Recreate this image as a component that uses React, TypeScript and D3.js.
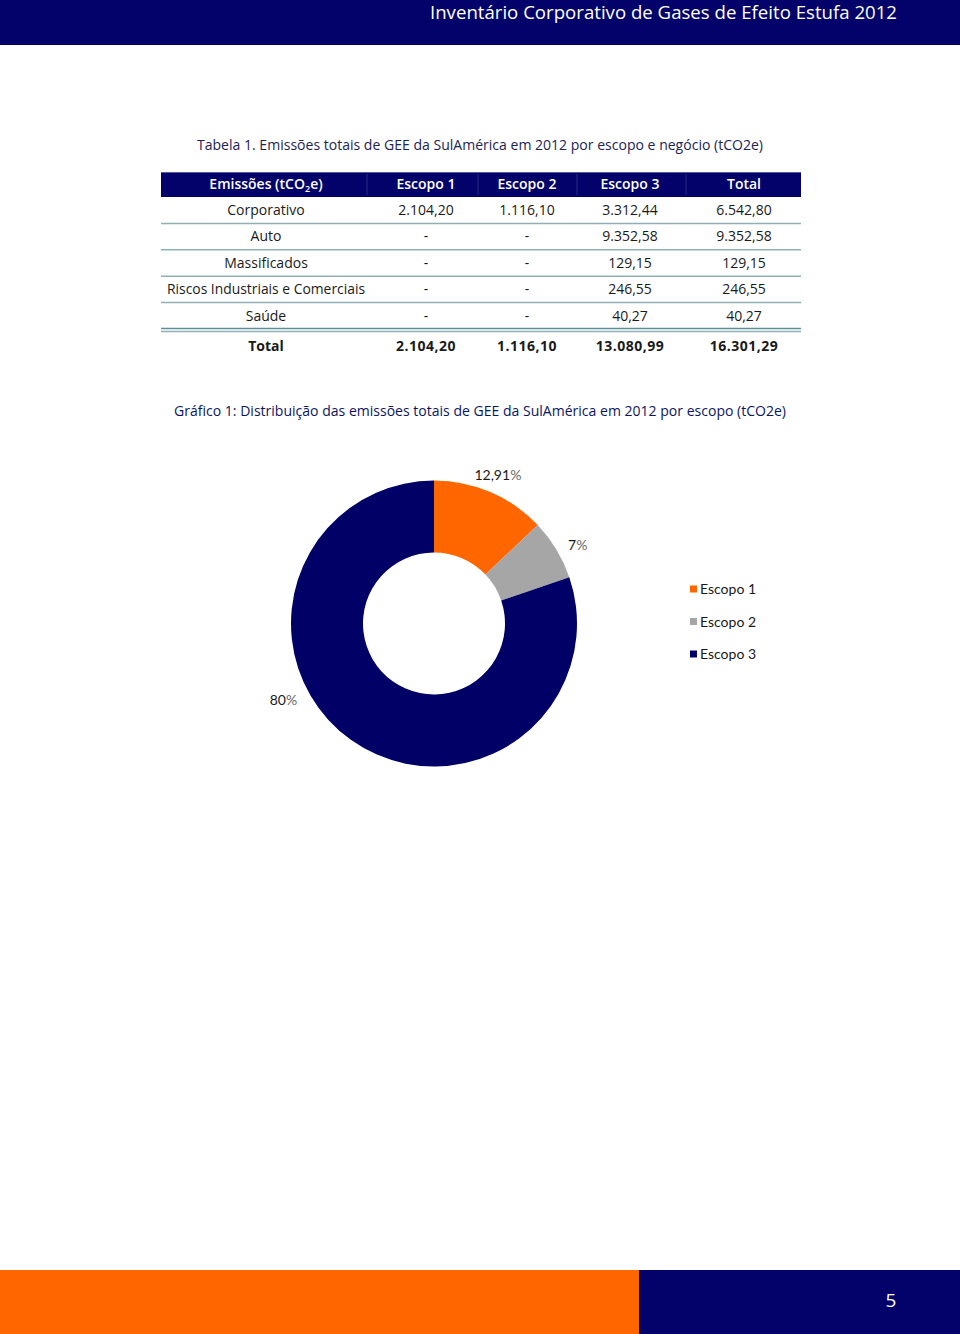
import React from "react";
import * as d3 from "d3";

const pageTitle = "Inventário Corporativo de Gases de Efeito Estufa 2012";
const tableTitle = "Tabela 1. Emissões totais de GEE da SulAmérica em 2012 por escopo e negócio (tCO2e)";
const chartTitle = "Gráfico 1: Distribuição das emissões totais de GEE da SulAmérica em 2012 por escopo (tCO2e)";
const pageNumber = "5";

const columns = ["Escopo 1", "Escopo 2", "Escopo 3", "Total"];
const rowNames = ["Corporativo", "Auto", "Massificados", "Riscos Industriais e Comerciais", "Saúde"];
const escopo1 = ["2.104,20", "-", "-", "-", "-"];
const escopo2 = ["1.116,10", "-", "-", "-", "-"];
const escopo3 = ["3.312,44", "9.352,58", "129,15", "246,55", "40,27"];
const totals = ["6.542,80", "9.352,58", "129,15", "246,55", "40,27"];
const totalRow = ["2.104,20", "1.116,10", "13.080,99", "16.301,29"];

const scopes = ["Escopo 1", "Escopo 2", "Escopo 3"];
const scopeValues = [2104.2, 1116.1, 13080.99];
const scopeLabels = ["12,91", "7", "80"];
const scopeColors = ["#FF6600", "#A6A6A6", "#000066"];

const NAVY = "#02026A";
const FONT = "'Open Sans', 'DejaVu Sans', sans-serif";
const CFONT = "Lato, 'Open Sans', sans-serif";

export default function App() {
  const colX = [266, 426, 527, 630, 744];
  const tableLeft = 161;
  const tableRight = 801;
  const headerTop = 172;
  const headerBottom = 197;
  const rowH = 26.4;
  const rowLines = rowNames.map((_, i) => headerBottom + rowH * (i + 1));
  const colSeps = [367, 478, 577, 686];

  const cx = 434;
  const cy = 623.5;
  const outerR = 143;
  const innerR = 71;
  const pie = d3.pie<number>().sort(null).value((d) => d);
  const arcs = pie(scopeValues);
  const arc = d3.arc<d3.PieArcDatum<number>>().innerRadius(innerR).outerRadius(outerR);
  const labelFrac = [0.5, 0.6, 0.595];
  const labelR = [162, 164, 169];

  const cellRows = rowNames.map((n, i) => [n, escopo1[i], escopo2[i], escopo3[i], totals[i]]);

  return (
    <svg
      width={960}
      height={1334}
      style={{ position: "absolute", left: 0, top: 0, background: "#fff" }}
      xmlns="http://www.w3.org/2000/svg"
    >
      <rect x={0} y={0} width={960} height={1334} fill="#fff" />
      {/* page header */}
      <rect x={0} y={0} width={960} height={45} fill={NAVY} />
      <text x={897} y={18.5} textAnchor="end" fill="#fff" fontFamily={FONT} fontSize={18} textLength={467} lengthAdjust="spacingAndGlyphs">
        {pageTitle}
      </text>

      {/* table title */}
      <text x={480} y={150} textAnchor="middle" fill="#1B2453" fontFamily={FONT} fontSize={14} textLength={566} lengthAdjust="spacingAndGlyphs">
        {tableTitle}
      </text>

      {/* table header */}
      <rect x={tableLeft} y={headerTop} width={tableRight - tableLeft} height={headerBottom - headerTop} fill={NAVY} />
      {colSeps.map((x, i) => (
        <line key={i} x1={x} x2={x} y1={headerTop + 2} y2={headerBottom - 2} stroke="#2a2a80" strokeWidth={1} />
      ))}
      <line x1={tableLeft} x2={tableRight} y1={headerTop + 0.5} y2={headerTop + 0.5} stroke="#5a5a9a" strokeWidth={1} />
      <text x={colX[0]} y={189} textAnchor="middle" fill="#fff" fontFamily={FONT} fontSize={14} fontWeight={600}>
        Emissões (tCO<tspan fontSize={9} dy={3}>2</tspan><tspan dy={-3}>e)</tspan>
      </text>
      {columns.map((c, i) => (
        <text key={c} x={colX[i + 1]} y={189} textAnchor="middle" fill="#fff" fontFamily={FONT} fontSize={14} fontWeight={600}>
          {c}
        </text>
      ))}

      {/* table body */}
      {cellRows.map((row, r) => (
        <g key={r}>
          {row.map((v, c) => (
            <text
              key={c}
              x={colX[c]}
              y={headerBottom + rowH * r + 18}
              textAnchor="middle"
              fill="#1a1a1a"
              fontFamily={FONT}
              fontSize={14}
              textLength={c === 0 && r === 3 ? 198 : undefined}
              lengthAdjust="spacingAndGlyphs"
            >
              {v}
            </text>
          ))}
          {r < rowNames.length - 1 ? (
            <line x1={tableLeft} x2={tableRight} y1={rowLines[r]} y2={rowLines[r]} stroke="#8FAFB5" strokeWidth={1.5} />
          ) : (
            <g>
              <line x1={tableLeft} x2={tableRight} y1={rowLines[r] - 0.5} y2={rowLines[r] - 0.5} stroke="#5E8E98" strokeWidth={1.5} />
              <line x1={tableLeft} x2={tableRight} y1={rowLines[r] + 2.5} y2={rowLines[r] + 2.5} stroke="#8FB0B8" strokeWidth={1.5} />
            </g>
          )}
        </g>
      ))}
      <text x={colX[0]} y={351} textAnchor="middle" fill="#1a1a1a" fontFamily={FONT} fontSize={14} fontWeight={700}>
        Total
      </text>
      {totalRow.map((v, i) => (
        <text key={i} x={colX[i + 1]} y={351} textAnchor="middle" fill="#1a1a1a" fontFamily={FONT} fontSize={14} fontWeight={700} letterSpacing={0.5}>
          {v}
        </text>
      ))}

      {/* chart title */}
      <text x={480} y={416} textAnchor="middle" fill="#0C1560" fontFamily={FONT} fontSize={14} textLength={612} lengthAdjust="spacingAndGlyphs">
        {chartTitle}
      </text>

      {/* donut */}
      <g transform={`translate(${cx},${cy})`}>
        {arcs.map((a, i) => (
          <path key={i} d={arc(a) || ""} fill={scopeColors[i]} />
        ))}
        {arcs.map((a, i) => {
          const ang = a.startAngle + (a.endAngle - a.startAngle) * labelFrac[i];
          const x = Math.sin(ang) * labelR[i];
          const y = -Math.cos(ang) * labelR[i];
          return (
            <text key={i} x={x} y={y + 5} textAnchor="middle" fontFamily={CFONT} fontSize={14} fill="#1a1a1a">
              {scopeLabels[i]}
              <tspan fill="#666">%</tspan>
            </text>
          );
        })}
      </g>

      {/* legend */}
      {scopes.map((s, i) => (
        <g key={s} transform={`translate(690,${589 + i * 32.5})`}>
          <rect x={0} y={-3.5} width={7} height={7} fill={scopeColors[i]} />
          <text x={10} y={5} fontFamily={CFONT} fontSize={14} fill="#1a1a1a">
            {s}
          </text>
        </g>
      ))}

      {/* footer */}
      <rect x={0} y={1270} width={639} height={64} fill="#FF6600" />
      <rect x={639} y={1270} width={321} height={64} fill={NAVY} />
      <text x={891} y={1307} textAnchor="middle" fill="#fff" fontFamily={FONT} fontSize={19}>
        {pageNumber}
      </text>
    </svg>
  );
}
